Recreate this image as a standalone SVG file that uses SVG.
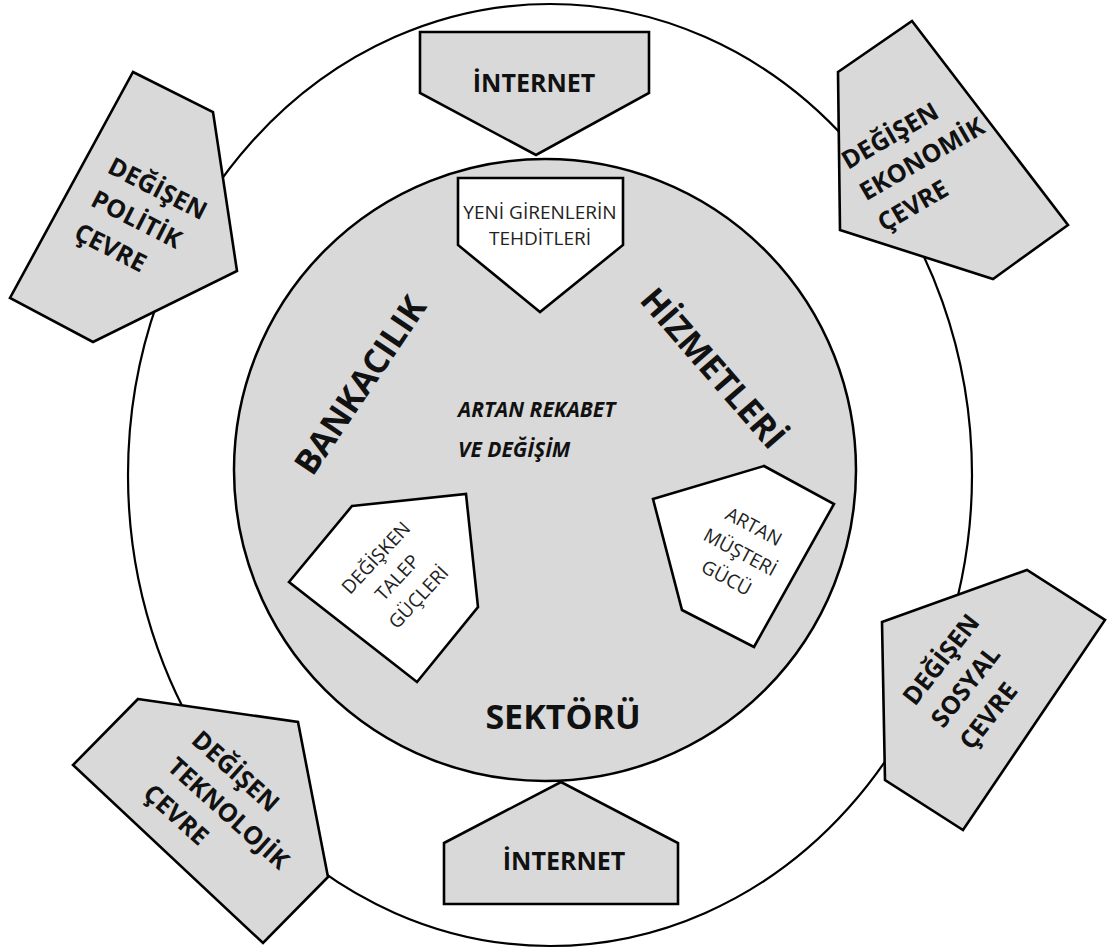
<svg xmlns="http://www.w3.org/2000/svg" width="1108" height="951" viewBox="0 0 1108 951">
  <style>
    .ring-outer{fill:#fff;stroke:#000;stroke-width:2.2}
    .ring-inner{fill:#d9d9d9;stroke:#000;stroke-width:2.5}
    .env{fill:#d9d9d9;stroke:#000;stroke-width:2.6;stroke-linejoin:miter}
    .force{fill:#fff;stroke:#000;stroke-width:2.6;stroke-linejoin:miter}
    .t{font-family:"Open Sans","Liberation Sans",sans-serif;fill:#111}
    .bold{font-weight:700}
    .env-t{font-size:25px;font-weight:700}
    .force-t{font-size:19px;fill:#222}
    .sector{font-size:34px;font-weight:700}
    .core{font-size:21px;font-weight:700;font-style:italic}
  </style>
  <rect width="1108" height="951" fill="#fff"/>

  <!-- outer environment ring and inner sector disc -->
  <g id="rings">
    <ellipse class="ring-outer" cx="550" cy="475" rx="422" ry="471"/>
    <circle class="ring-inner" cx="545" cy="470" r="311"/>
  </g>

  <!-- no connectors in this figure -->
  <g id="connectors"/>

  <!-- sector title around the disc -->
  <g id="sector-title">
    <text class="t sector" text-anchor="middle" transform="translate(370,392) rotate(-56)">BANKACILIK</text>
    <text class="t sector" text-anchor="middle" transform="translate(704,376) rotate(49)">HİZMETLERİ</text>
    <text class="t sector" x="563" y="729" text-anchor="middle" font-size="31">SEKTÖRÜ</text>
  </g>

  <g id="core">
    <text class="t core" x="458" y="417">ARTAN REKABET</text>
    <text class="t core" x="458" y="457">VE DEĞİŞİM</text>
  </g>

  <!-- forces inside the disc -->
  <g id="new-entrants">
    <polygon class="force" points="458,178 623,178 623,245 540,312 458,245"/>
    <text class="t force-t" x="540" y="219" text-anchor="middle">YENİ GİRENLERİN</text>
    <text class="t force-t" x="540" y="245" text-anchor="middle">TEHDİTLERİ</text>
  </g>

  <g id="demand-forces">
    <polygon class="force" points="352,506 466,494 478,607 417,682 289,582"/>
    <g transform="translate(402,582) rotate(-47)">
      <text class="t force-t" y="-29" text-anchor="middle">DEĞİŞKEN</text>
      <text class="t force-t" y="0" text-anchor="middle">TALEP</text>
      <text class="t force-t" y="29" text-anchor="middle">GÜÇLERİ</text>
    </g>
  </g>

  <g id="customer-power">
    <polygon class="force" points="653,499 764,466 834,504 754,647 682,610"/>
    <g transform="translate(737,558) rotate(28)">
      <text class="t force-t" y="-29" text-anchor="middle">ARTAN</text>
      <text class="t force-t" y="0" text-anchor="middle">MÜŞTERİ</text>
      <text class="t force-t" y="29" text-anchor="middle">GÜCÜ</text>
    </g>
  </g>

  <!-- environment shapes on the ring -->
  <g id="internet-top">
    <polygon class="env" points="420,32 649,32 649,93 536,155 420,93"/>
    <text class="t bold" x="534" y="92" font-size="25" text-anchor="middle">İNTERNET</text>
  </g>

  <g id="internet-bottom">
    <polygon class="env" points="444,843 561,782 678,843 678,904 444,904"/>
    <text class="t bold" x="564" y="870" font-size="25" text-anchor="middle">İNTERNET</text>
  </g>

  <g id="political">
    <polygon class="env" points="133,72 213,112 237,271 93,342 10,298"/>
    <g transform="translate(106,172) rotate(27)">
      <text class="t env-t" y="0">DEĞİŞEN</text>
      <text class="t env-t" y="37">POLİTİK</text>
      <text class="t env-t" y="74">ÇEVRE</text>
    </g>
  </g>

  <g id="economic">
    <polygon class="env" points="838,72 912,21 1068,225 993,279 840,230"/>
    <g transform="translate(848,170) rotate(-30)">
      <text class="t env-t" y="0">DEĞİŞEN</text>
      <text class="t env-t" y="36">EKONOMİK</text>
      <text class="t env-t" y="72">ÇEVRE</text>
    </g>
  </g>

  <g id="social">
    <polygon class="env" points="882,622 1027,570 1105,620 963,830 885,780"/>
    <g transform="translate(915,707) rotate(-52)">
      <text class="t env-t" y="0">DEĞİŞEN</text>
      <text class="t env-t" y="36">SOSYAL</text>
      <text class="t env-t" y="72">ÇEVRE</text>
    </g>
  </g>

  <g id="technological">
    <polygon class="env" points="138,699 298,722 328,877 263,943 73,765"/>
    <g transform="translate(190,742) rotate(42)">
      <text class="t env-t" y="0">DEĞİŞEN</text>
      <text class="t env-t" y="36">TEKNOLOJİK</text>
      <text class="t env-t" y="72">ÇEVRE</text>
    </g>
  </g>
</svg>
